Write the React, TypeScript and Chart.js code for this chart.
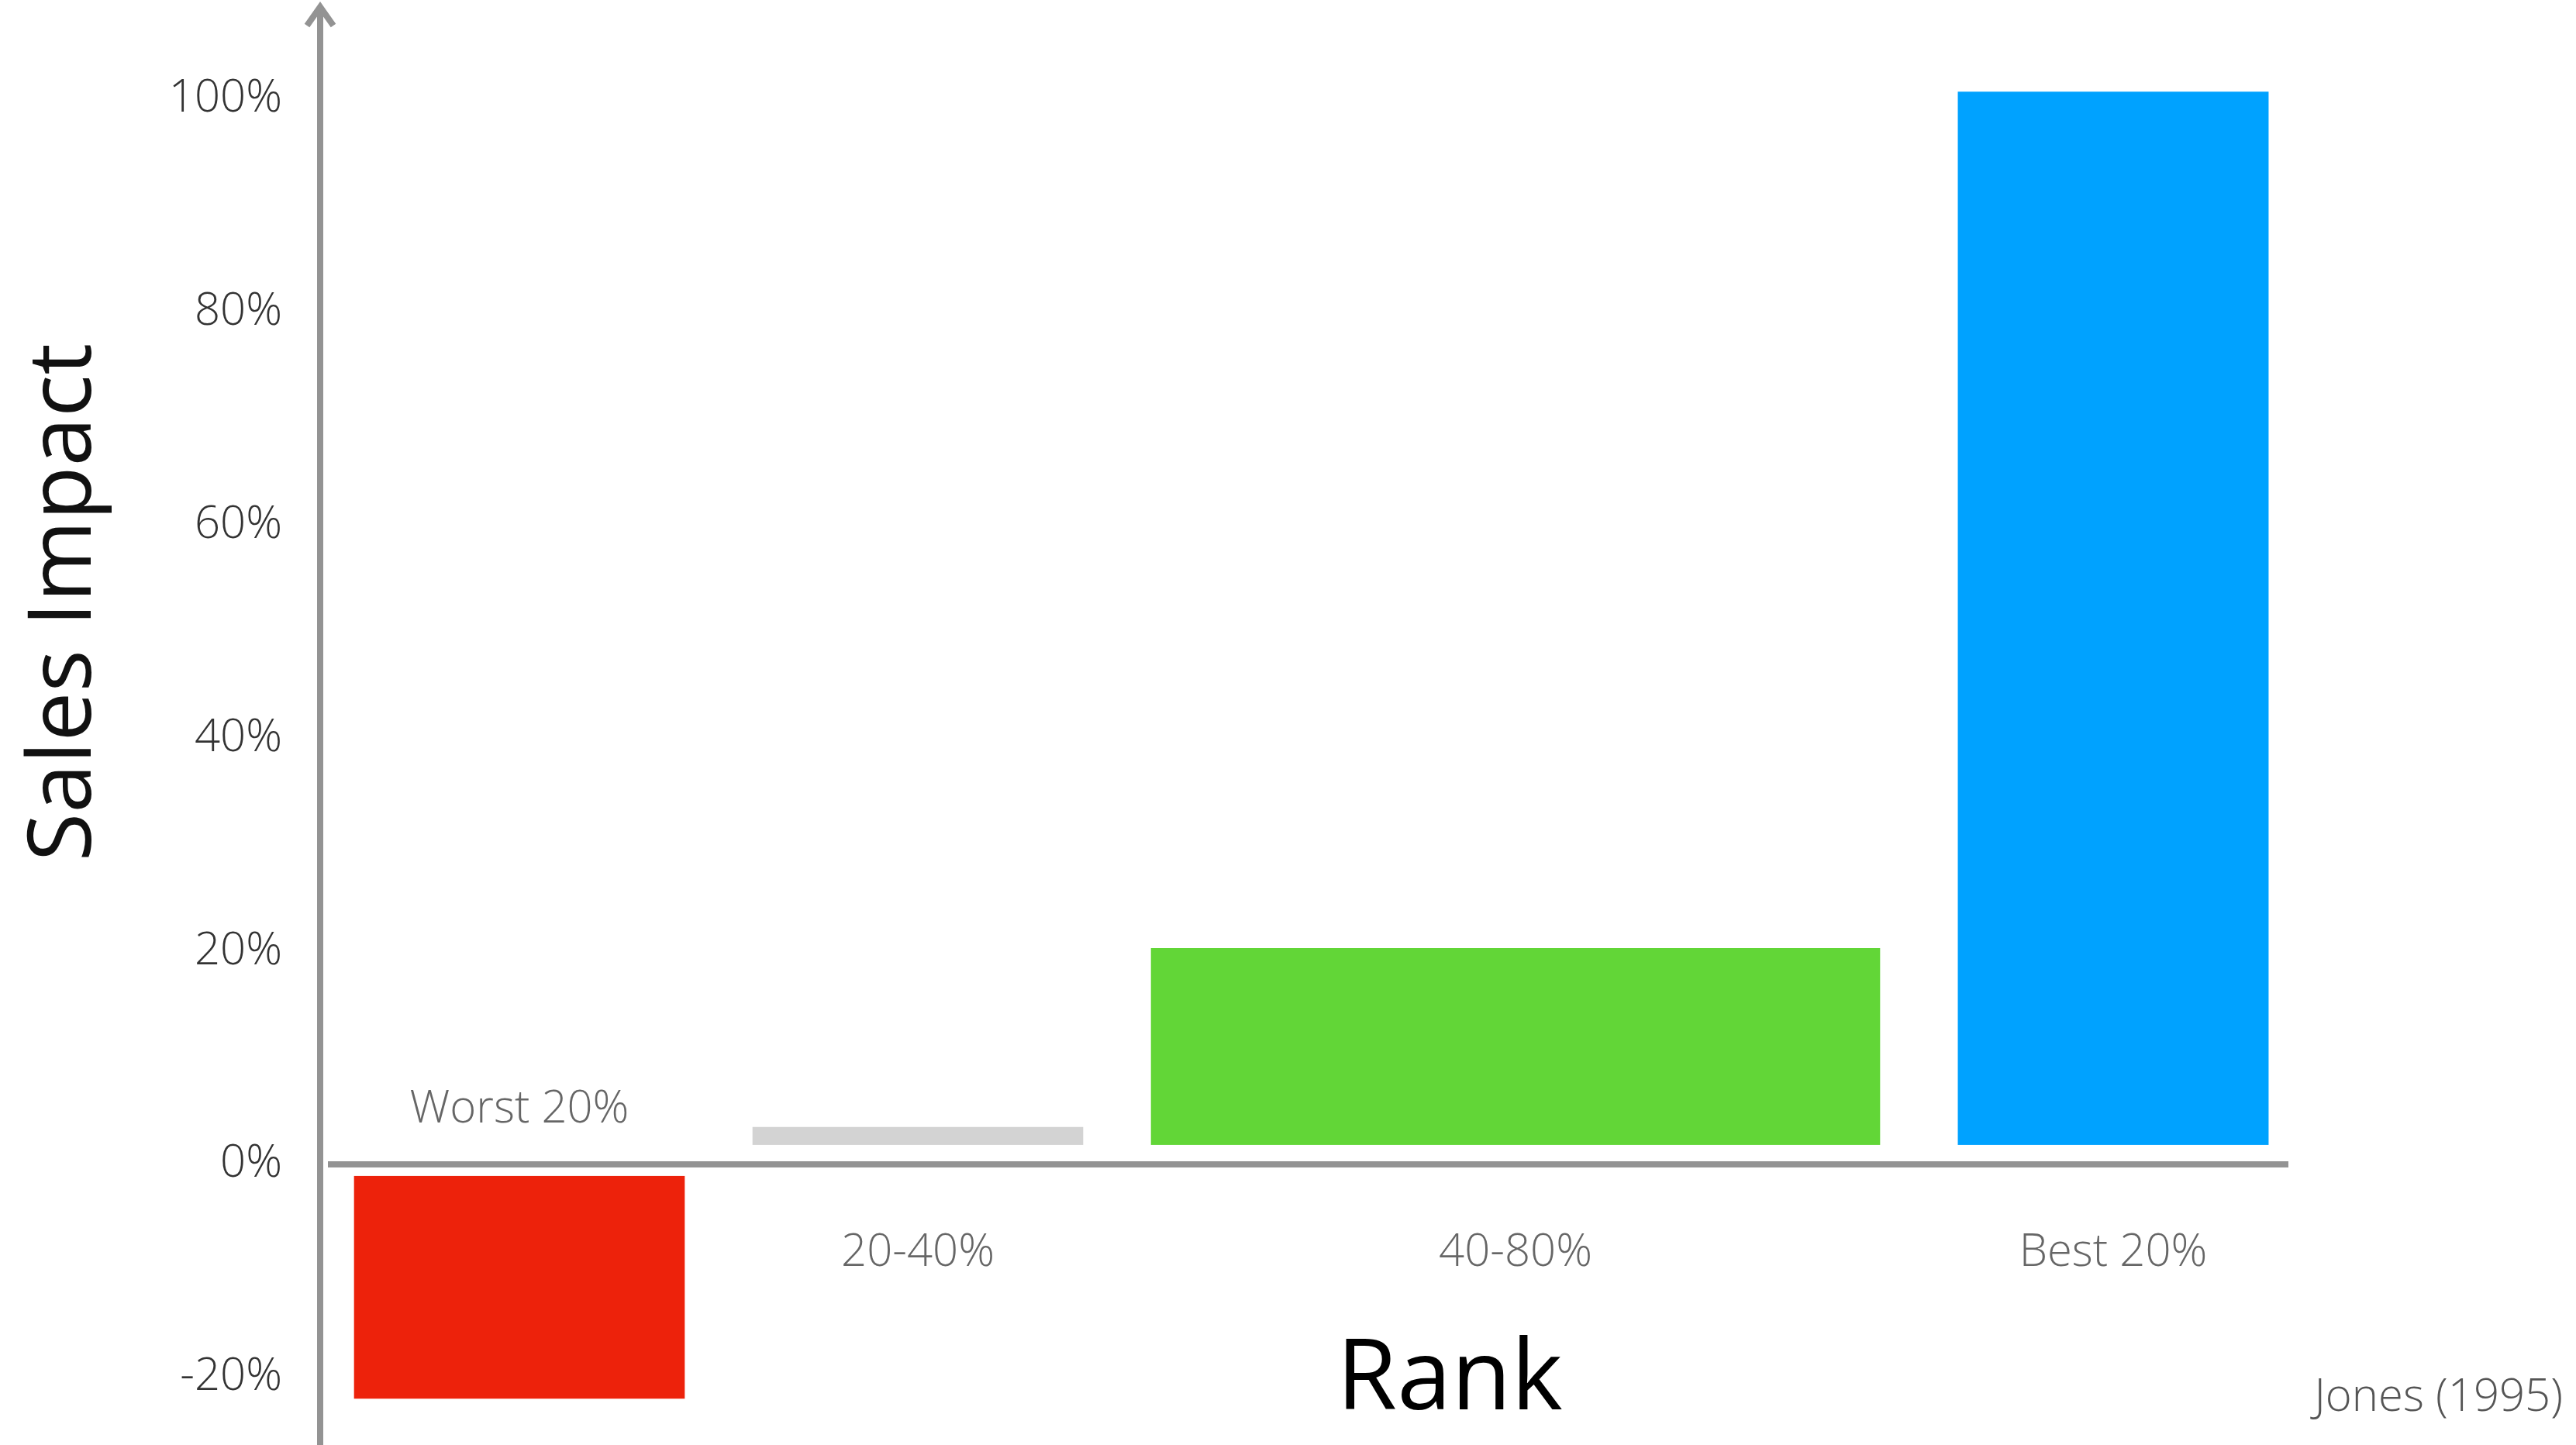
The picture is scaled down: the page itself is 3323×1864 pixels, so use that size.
import React, { useEffect, useRef } from 'react';
import { Chart, registerables } from 'chart.js';

Chart.register(...registerables);

// ---- data ----
const categories = ['Worst 20%', '20-40%', '40-80%', 'Best 20%'];
const rankStart = [0, 20, 40, 80];
const rankEnd = [20, 40, 80, 100];
const salesImpact = [-22, 3.5, 20.3, 100.7];
const barColors = ['#ED220B', '#D3D3D3', '#62D637', '#00A2FF'];
const yTicks = [-20, 0, 20, 40, 60, 80, 100];
const yTitle = 'Sales Impact';
const xTitle = 'Rank';
const sourceNote = 'Jones (1995)';

// ---- style ----
const W = 3323;
const H = 1864;
const AXIS_COLOR = '#939393';
const FONT = '"Open Sans", "Noto Sans", sans-serif';
const BAR_GAP_UNITS = [3.4, 3.4, 3.4, 4.4];
const MIN_SPAN = 20;

const decorPlugin = {
  id: 'decor',
  afterDatasetsDraw(chart: any) {
    const { ctx, chartArea, scales } = chart;
    const y = scales.y;
    const y0 = y.getPixelForValue(0);
    ctx.save();
    // white gap around the baseline
    ctx.fillStyle = '#ffffff';
    ctx.fillRect(chartArea.left + 5, y0 - 25, chartArea.right - chartArea.left, 40);
    // zero line
    ctx.strokeStyle = AXIS_COLOR;
    ctx.lineWidth = 8;
    ctx.lineCap = 'butt';
    ctx.beginPath();
    ctx.moveTo(chartArea.left + 10, y0);
    ctx.lineTo(chartArea.right - 31, y0);
    ctx.stroke();
    // y axis with arrow
    const ax = chartArea.left;
    ctx.beginPath();
    ctx.moveTo(ax, chart.height);
    ctx.lineTo(ax, 10);
    ctx.stroke();
    ctx.lineJoin = 'miter';
    ctx.beginPath();
    ctx.moveTo(ax - 17, 33);
    ctx.lineTo(ax, 9);
    ctx.lineTo(ax + 17, 33);
    ctx.stroke();

    // category labels
    ctx.font = `300 58px ${FONT}`;
    ctx.fillStyle = '#666666';
    ctx.textAlign = 'center';
    ctx.textBaseline = 'alphabetic';
    categories.forEach((label, i) => {
      const el = chart.getDatasetMeta(i).data[0];
      if (!el) return;
      const ty = salesImpact[i] < 0 ? y0 - 54 : y0 + 131;
      ctx.fillText(label, el.x, ty);
    });

    // axis titles
    ctx.fillStyle = '#111111';
    ctx.font = `114px ${FONT}`;
    ctx.save();
    ctx.translate(117, 777);
    ctx.rotate(-Math.PI / 2);
    ctx.textAlign = 'center';
    ctx.fillText(yTitle, 0, 0);
    ctx.restore();

    ctx.fillStyle = '#000000';
    ctx.font = `126px ${FONT}`;
    ctx.textAlign = 'center';
    ctx.fillText(xTitle, 1870, 1818);

    // source
    ctx.fillStyle = '#555555';
    ctx.font = `300 58px ${FONT}`;
    ctx.textAlign = 'right';
    ctx.fillText(sourceNote, 3306, 1820);
    ctx.restore();
  },
};

export default function App() {
  const canvasRef = useRef<HTMLCanvasElement | null>(null);

  useEffect(() => {
    let chart: Chart | null = null;
    let cancelled = false;
    const make = () => {
      if (cancelled || !canvasRef.current) return;
      const datasets = categories.map((label, i) => ({
        label,
        data: [{ x: (rankStart[i] + rankEnd[i]) / 2, y: salesImpact[i] }],
        backgroundColor: barColors[i],
        borderWidth: 0,
        grouped: false,
        categoryPercentage: 1,
        barPercentage: (rankEnd[i] - rankStart[i] - BAR_GAP_UNITS[i]) / MIN_SPAN,
      }));
      chart = new Chart(canvasRef.current, {
        type: 'bar',
        data: { datasets } as any,
        plugins: [decorPlugin],
        options: {
          animation: false,
          responsive: false,
          devicePixelRatio: 1,
          layout: { padding: { left: 0, right: W - 2983, top: 0, bottom: 0 } },
          plugins: { legend: { display: false }, tooltip: { enabled: false } },
          scales: {
            x: {
              type: 'linear',
              display: false,
              min: 0,
              max: 100,
              offset: false,
              ticks: { stepSize: MIN_SPAN },
            },
            y: {
              type: 'linear',
              min: -26.35,
              max: 109.3,
              grid: { display: false, drawTicks: false },
              border: { display: false },
              afterFit: (s: any) => {
                s.width = 413;
                s.paddingTop = 0;
                s.paddingBottom = 0;
              },
              afterBuildTicks: (s: any) => {
                s.ticks = yTicks.map((v) => ({ value: v }));
              },
              ticks: {
                padding: 49,
                color: '#333333',
                font: { family: FONT, size: 58, weight: '300' as any },
                callback: (v: any) => `${v}%`,
              },
            },
          },
        } as any,
      });
    };
    const fontsReady = (document as any).fonts
      ? Promise.all([
          (document as any).fonts.load(`300 58px "Open Sans"`),
          (document as any).fonts.load(`114px "Open Sans"`),
        ]).catch(() => null)
      : Promise.resolve(null);
    fontsReady.then(make);
    return () => {
      cancelled = true;
      if (chart) chart.destroy();
    };
  }, []);

  return (
    <canvas
      ref={canvasRef}
      width={W}
      height={H}
      style={{ position: 'fixed', left: 0, top: 0, width: W, height: H, background: '#fff' }}
    />
  );
}
